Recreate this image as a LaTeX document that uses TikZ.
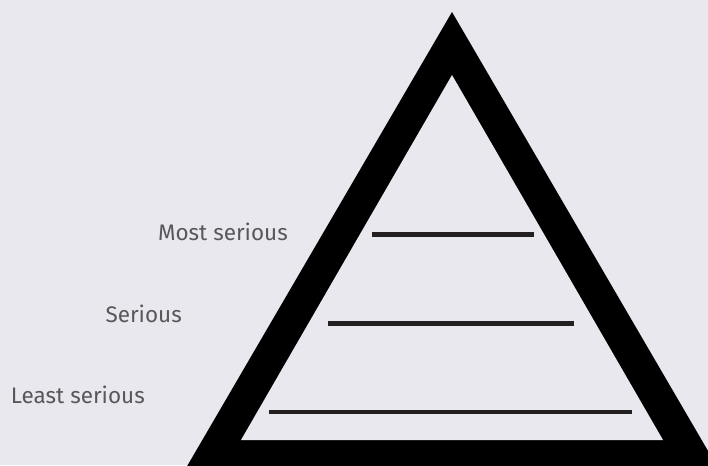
\documentclass[tikz,border=0pt]{standalone}
\usepackage{fontspec}
\setmainfont{Fira Sans}
\definecolor{PageBg}{HTML}{E9E8EE}
\definecolor{LabelGray}{HTML}{58585B}
\definecolor{RuleDark}{HTML}{231F20}
\begin{document}
\begin{tikzpicture}[x=1pt, y=-1pt, every node/.style={font=\fontsize{22.5}{27}\selectfont, text=LabelGray, inner sep=0pt}]
\fill[PageBg] (0,0) rectangle (708,465);
\useasboundingbox (0,0) rectangle (708,465);
% outer black triangle, runs off the page at the bottom and right
\begin{scope}
\clip (0,0) rectangle (708,465);
\fill[black] (452,12) -- (179,480) -- (725,480) -- cycle;
\end{scope}
\fill[PageBg] (452,75) -- (241,440) -- (663,440) -- cycle;
% levels
\coordinate (top-l) at (372,234.5);
\coordinate (top-r) at (534,234.5);
\coordinate (mid-l) at (328,323.5);
\coordinate (mid-r) at (574,323.5);
\coordinate (low-l) at (269,412);
\coordinate (low-r) at (632,412);
\draw[RuleDark, line width=4.3pt] (top-l)--(top-r);
\draw[RuleDark, line width=4.3pt] (mid-l)--(mid-r);
\draw[RuleDark, line width=4.3pt] (low-l)--(low-r);
\node[anchor=base east] (most) at (288,240.5) {Most serious};
\node[anchor=base east] (serious) at (182,322) {Serious};
\node[anchor=base east] (least) at (145,403) {Least serious};
\end{tikzpicture}
\end{document}
